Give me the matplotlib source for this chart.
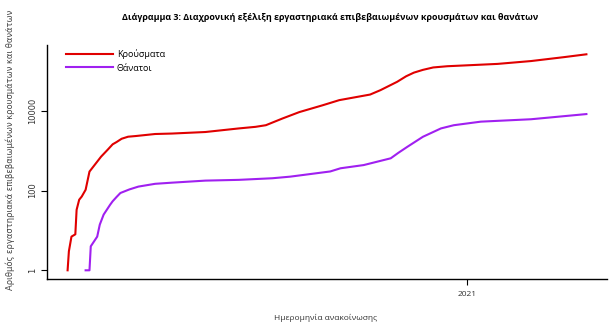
import numpy as np
import pandas as pd
import matplotlib
matplotlib.use('Agg')
import matplotlib.pyplot as plt

# cumulative cases
case_dates = ['2020-02-26', '2020-02-27', '2020-02-29', '2020-03-03', '2020-03-04',
              '2020-03-06', '2020-03-08', '2020-03-11', '2020-03-14', '2020-03-18',
              '2020-03-23', '2020-03-28', '2020-04-01', '2020-04-04', '2020-04-08',
              '2020-04-13', '2020-04-19', '2020-05-04', '2020-05-17', '2020-06-12',
              '2020-07-08', '2020-07-21', '2020-07-29', '2020-08-11', '2020-08-24',
              '2020-09-11', '2020-09-24', '2020-10-18', '2020-10-26', '2020-11-08',
              '2020-11-15', '2020-11-21', '2020-11-28', '2020-12-06', '2020-12-17',
              '2020-12-30', '2021-01-25', '2021-02-20', '2021-03-18', '2021-04-04']
cases = [1, 3, 7, 8, 33,
         59, 71, 105, 300, 440,
         710, 1050, 1450, 1650, 2000,
         2250, 2340, 2630, 2700, 2950,
         3630, 3980, 4370, 6460, 9330,
         13800, 18600, 25700, 33100, 53700,
         74000, 91200, 107000, 123000, 132000,
         138000, 151000, 178000, 224000, 263000]

# cumulative deaths
death_dates = ['2020-03-11', '2020-03-14', '2020-03-15', '2020-03-17', '2020-03-20',
               '2020-03-22', '2020-03-25', '2020-03-30', '2020-04-01', '2020-04-04',
               '2020-04-07', '2020-04-14', '2020-04-21', '2020-05-04', '2020-05-17',
               '2020-06-12', '2020-07-08', '2020-08-03', '2020-08-17', '2020-09-17',
               '2020-09-25', '2020-10-13', '2020-11-03', '2020-11-09', '2020-11-16',
               '2020-11-28', '2020-12-12', '2020-12-22', '2021-01-12', '2021-02-20',
               '2021-04-04']
deaths = [1, 1, 4, 5, 7,
          14, 25, 44, 54, 69,
          87, 107, 126, 148, 158,
          178, 186, 204, 224, 302,
          363, 437, 646, 890, 1260,
          2240, 3630, 4370, 5370, 6170,
          8320]

case_dates = pd.to_datetime(case_dates)
death_dates = pd.to_datetime(death_dates)

fig = plt.figure(figsize=(6.15, 3.27), dpi=100)
ax = fig.add_axes([47/615, 1-279/327, 560/615, 234/327])

ax.plot(case_dates, cases, color='#e00000', lw=1.5, label='Κρούσματα')
ax.plot(death_dates, deaths, color='#a020f0', lw=1.5, label='Θάνατοι')

ax.set_yscale('log')
ax.set_ylim(0.605, 4.5e5)
ax.set_xlim(pd.Timestamp('2020-02-10'), pd.Timestamp('2021-04-20'))

ax.set_yticks([1, 100, 10000])
ax.set_yticklabels(['1', '100', '10000'], rotation=90, va='center', fontsize=6, color='#333333')
ax.yaxis.set_minor_locator(matplotlib.ticker.NullLocator())
ax.set_xticks([pd.Timestamp('2021-01-01')])
ax.set_xticklabels(['2021'], fontsize=6, family='Open Sans', color='#333333')
ax.tick_params(axis='both', length=4, width=0.8, pad=3)
ax.tick_params(axis='x', pad=5)

for s in ['top', 'right']:
    ax.spines[s].set_visible(False)
for s in ['left', 'bottom']:
    ax.spines[s].set_linewidth(1.0)

ax.legend(loc='upper left', frameon=False, handlelength=5.2, handletextpad=0.4,
          labelspacing=0.45, bbox_to_anchor=(0.02, 1.015), prop={'family': 'Open Sans', 'size': 6.5})

fig.text(330/615, 1-18/327, 'Διάγραμμα 3: Διαχρονική εξέλιξη εργαστηριακά επιβεβαιωμένων κρουσμάτων και θανάτων',
         ha='center', va='center', fontsize=6.4, fontweight='bold', family='Open Sans')
fig.text(326/615, 1-318/327, 'Ημερομηνία ανακοίνωσης', ha='center', va='center',
         fontsize=6, family='Open Sans', color='#333333')
fig.text(10/615, 1-150/327, 'Αριθμός εργαστηριακά επιβεβαιωμένων κρουσμάτων και θανάτων',
         ha='center', va='center', rotation=90, fontsize=6.0, color='#444444')

fig.savefig('out.png', dpi=100)
